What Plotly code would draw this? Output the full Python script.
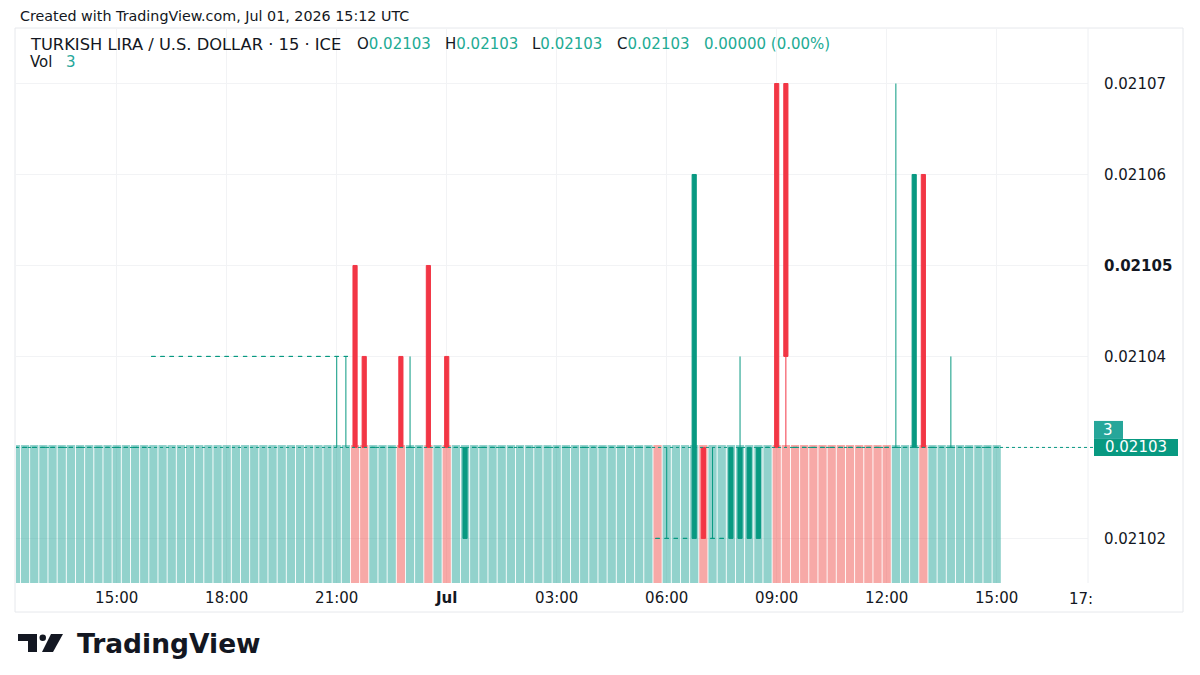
import pandas as pd
import plotly.graph_objects as go

# 15 minute bars, 2026-06-30 12:15 -> 2026-07-01 15:00 (UTC)
times = pd.date_range("2026-06-30 12:15", periods=108, freq="15min")

opens = [
    0.02103, 0.02103, 0.02103, 0.02103, 0.02103, 0.02103, 0.02103,            # 12:15
    0.02103, 0.02103, 0.02103, 0.02103, 0.02103, 0.02103, 0.02103, 0.02103,   # 14:00
    0.02104, 0.02104, 0.02104, 0.02104, 0.02104, 0.02104, 0.02104, 0.02104,   # 16:00
    0.02104, 0.02104, 0.02104, 0.02104, 0.02104, 0.02104, 0.02104, 0.02104,   # 18:00
    0.02104, 0.02104, 0.02104, 0.02104, 0.02104, 0.02104, 0.02105, 0.02104,   # 20:00
    0.02103, 0.02103, 0.02103, 0.02104, 0.02103, 0.02103, 0.02105, 0.02103,   # 22:00
    0.02104, 0.02103, 0.02102, 0.02103, 0.02103, 0.02103, 0.02103, 0.02103,   # 00:00
    0.02103, 0.02103, 0.02103, 0.02103, 0.02103, 0.02103, 0.02103, 0.02103,   # 02:00
    0.02103, 0.02103, 0.02103, 0.02103, 0.02103, 0.02103, 0.02103, 0.02102,   # 04:00
    0.02102, 0.02102, 0.02102, 0.02102, 0.02103, 0.02102, 0.02102, 0.02102,   # 06:00
    0.02102, 0.02102, 0.02102, 0.02103, 0.02107, 0.02107, 0.02103, 0.02103,   # 08:00
    0.02103, 0.02103, 0.02103, 0.02103, 0.02103, 0.02103, 0.02103, 0.02103,   # 10:00
    0.02103, 0.02103, 0.02103, 0.02103, 0.02106, 0.02103, 0.02103, 0.02103,   # 12:00
    0.02103, 0.02103, 0.02103, 0.02103, 0.02103,                              # 14:00
]
highs = [
    0.02103, 0.02103, 0.02103, 0.02103, 0.02103, 0.02103, 0.02103,
    0.02103, 0.02103, 0.02103, 0.02103, 0.02103, 0.02103, 0.02103, 0.02103,
    0.02104, 0.02104, 0.02104, 0.02104, 0.02104, 0.02104, 0.02104, 0.02104,
    0.02104, 0.02104, 0.02104, 0.02104, 0.02104, 0.02104, 0.02104, 0.02104,
    0.02104, 0.02104, 0.02104, 0.02104, 0.02104, 0.02104, 0.02105, 0.02104,
    0.02103, 0.02103, 0.02103, 0.02104, 0.02104, 0.02103, 0.02105, 0.02103,
    0.02104, 0.02103, 0.02103, 0.02103, 0.02103, 0.02103, 0.02103, 0.02103,
    0.02103, 0.02103, 0.02103, 0.02103, 0.02103, 0.02103, 0.02103, 0.02103,
    0.02103, 0.02103, 0.02103, 0.02103, 0.02103, 0.02103, 0.02103, 0.02102,
    0.02103, 0.02102, 0.02102, 0.02106, 0.02103, 0.02103, 0.02102, 0.02103,
    0.02104, 0.02103, 0.02103, 0.02103, 0.02107, 0.02107, 0.02103, 0.02103,
    0.02103, 0.02103, 0.02103, 0.02103, 0.02103, 0.02103, 0.02103, 0.02103,
    0.02103, 0.02107, 0.02103, 0.02106, 0.02106, 0.02103, 0.02103, 0.02104,
    0.02103, 0.02103, 0.02103, 0.02103, 0.02103,
]
lows = [
    0.02103, 0.02103, 0.02103, 0.02103, 0.02103, 0.02103, 0.02103,
    0.02103, 0.02103, 0.02103, 0.02103, 0.02103, 0.02103, 0.02103, 0.02103,
    0.02104, 0.02104, 0.02104, 0.02104, 0.02104, 0.02104, 0.02104, 0.02104,
    0.02104, 0.02104, 0.02104, 0.02104, 0.02104, 0.02104, 0.02104, 0.02104,
    0.02104, 0.02104, 0.02104, 0.02104, 0.02103, 0.02103, 0.02103, 0.02103,
    0.02103, 0.02103, 0.02103, 0.02103, 0.02103, 0.02103, 0.02103, 0.02103,
    0.02103, 0.02103, 0.02102, 0.02103, 0.02103, 0.02103, 0.02103, 0.02103,
    0.02103, 0.02103, 0.02103, 0.02103, 0.02103, 0.02103, 0.02103, 0.02103,
    0.02103, 0.02103, 0.02103, 0.02103, 0.02103, 0.02103, 0.02103, 0.02102,
    0.02102, 0.02102, 0.02102, 0.02102, 0.02102, 0.02102, 0.02102, 0.02102,
    0.02102, 0.02102, 0.02102, 0.02103, 0.02103, 0.02103, 0.02103, 0.02103,
    0.02103, 0.02103, 0.02103, 0.02103, 0.02103, 0.02103, 0.02103, 0.02103,
    0.02103, 0.02103, 0.02103, 0.02103, 0.02103, 0.02103, 0.02103, 0.02103,
    0.02103, 0.02103, 0.02103, 0.02103, 0.02103,
]
closes = [
    0.02103, 0.02103, 0.02103, 0.02103, 0.02103, 0.02103, 0.02103,
    0.02103, 0.02103, 0.02103, 0.02103, 0.02103, 0.02103, 0.02103, 0.02103,
    0.02104, 0.02104, 0.02104, 0.02104, 0.02104, 0.02104, 0.02104, 0.02104,
    0.02104, 0.02104, 0.02104, 0.02104, 0.02104, 0.02104, 0.02104, 0.02104,
    0.02104, 0.02104, 0.02104, 0.02104, 0.02104, 0.02104, 0.02103, 0.02103,
    0.02103, 0.02103, 0.02103, 0.02103, 0.02103, 0.02103, 0.02103, 0.02103,
    0.02103, 0.02103, 0.02103, 0.02103, 0.02103, 0.02103, 0.02103, 0.02103,
    0.02103, 0.02103, 0.02103, 0.02103, 0.02103, 0.02103, 0.02103, 0.02103,
    0.02103, 0.02103, 0.02103, 0.02103, 0.02103, 0.02103, 0.02103, 0.02102,
    0.02102, 0.02102, 0.02102, 0.02106, 0.02102, 0.02102, 0.02102, 0.02103,
    0.02103, 0.02103, 0.02103, 0.02103, 0.02103, 0.02104, 0.02103, 0.02103,
    0.02103, 0.02103, 0.02103, 0.02103, 0.02103, 0.02103, 0.02103, 0.02103,
    0.02103, 0.02103, 0.02103, 0.02106, 0.02103, 0.02103, 0.02103, 0.02103,
    0.02103, 0.02103, 0.02103, 0.02103, 0.02103,
]
volumes = [
    3, 3, 3, 3, 3, 3, 3,
    3, 3, 3, 3, 3, 3, 3, 3,
    3, 3, 3, 3, 3, 3, 3, 3,
    3, 3, 3, 3, 3, 3, 3, 3,
    3, 3, 3, 3, 3, 3, 3, 3,
    3, 3, 3, 3, 3, 3, 3, 3,
    3, 3, 3, 3, 3, 3, 3, 3,
    3, 3, 3, 3, 3, 3, 3, 3,
    3, 3, 3, 3, 3, 3, 3, 3,
    3, 3, 3, 3, 3, 3, 3, 3,
    3, 3, 3, 3, 3, 3, 3, 3,
    3, 3, 3, 3, 3, 3, 3, 3,
    3, 3, 3, 3, 3, 3, 3, 3,
    3, 3, 3, 3, 3,
]
# volume bar direction as TradingView coloured it (u = up, d = down)
vol_dir = [
    "u", "u", "u", "u", "u", "u", "u",
    "u", "u", "u", "u", "u", "u", "u", "u",
    "u", "u", "u", "u", "u", "u", "u", "u",
    "u", "u", "u", "u", "u", "u", "u", "u",
    "u", "u", "u", "u", "u", "u", "d", "d",
    "u", "u", "u", "d", "u", "u", "d", "u",
    "d", "u", "u", "u", "u", "u", "u", "u",
    "u", "u", "u", "u", "u", "u", "u", "u",
    "u", "u", "u", "u", "u", "u", "u", "d",
    "u", "u", "u", "u", "d", "u", "u", "u",
    "u", "u", "u", "u", "d", "d", "d", "d",
    "d", "d", "d", "d", "d", "d", "d", "d",
    "d", "u", "u", "u", "d", "u", "u", "u",
    "u", "u", "u", "u", "u",
]

tick_times = ["2026-06-30 15:00", "2026-06-30 18:00", "2026-06-30 21:00",
              "2026-07-01 00:00", "2026-07-01 03:00", "2026-07-01 06:00",
              "2026-07-01 09:00", "2026-07-01 12:00", "2026-07-01 15:00"]
tick_labels = ["15:00", "18:00", "21:00", "<b>Jul</b>", "03:00", "06:00",
               "09:00", "12:00", "15:00"]
price_ticks = [0.02102, 0.02103, 0.02104, 0.02105, 0.02106, 0.02107]
# 0.02103 sits under the last-price label
price_labels = ["0.02102", "", "0.02104", "<b>0.02105</b>", "0.02106", "0.02107"]

UP = "#089981"
DOWN = "#f23645"
FONT = "DejaVu Sans"
TXT = "#131722"
VAL = "#22ab94"

# plot area in pixels: left 16, right 1088, top 28, bottom 583
def px(x):
    return (x - 16) / 1072

def py(y):
    return (583 - y) / 555

vol_colors = ["rgba(38,166,154,0.5)" if d == "u" else "rgba(239,83,80,0.5)" for d in vol_dir]

# split bars so flat (open == close) candles stay green, like TradingView
is_down = [c < o for o, c in zip(opens, closes)]

def pick(vals, down):
    return [v if d == down else None for v, d in zip(vals, is_down)]

fig = go.Figure()
fig.add_trace(go.Bar(x=times, y=volumes, marker_color=vol_colors, marker_line_width=0,
                     yaxis="y", hoverinfo="skip"))
for down, col in [(False, UP), (True, DOWN)]:
    fig.add_trace(go.Candlestick(
        x=times, open=pick(opens, down), high=pick(highs, down),
        low=pick(lows, down), close=pick(closes, down), yaxis="y2",
        increasing=dict(line=dict(color=col, width=1), fillcolor=col),
        decreasing=dict(line=dict(color=col, width=1), fillcolor=col),
        whiskerwidth=0))

last = closes[-1]
chg = closes[-1] - closes[-2]

def v(s):
    return f"<span style='color:{VAL}'>{s}</span>"

annotations = [
    dict(x=px(18), y=py(16), text="Created with TradingView.com, Jul 01, 2026 15:12 UTC",
         font=dict(size=14.3, color=TXT)),
    dict(x=px(28), y=py(44), text="TURKISH LIRA / U.S. DOLLAR · 15 · ICE", font=dict(size=16.3, color=TXT)),
    dict(x=px(355), y=py(44), text="O" + v(f"{opens[-1]:.5f}"), font=dict(size=15, color=TXT)),
    dict(x=px(443), y=py(44), text="H" + v(f"{highs[-1]:.5f}"), font=dict(size=15, color=TXT)),
    dict(x=px(530), y=py(44), text="L" + v(f"{lows[-1]:.5f}"), font=dict(size=15, color=TXT)),
    dict(x=px(615), y=py(44), text="C" + v(f"{closes[-1]:.5f}"), font=dict(size=15, color=TXT)),
    dict(x=px(702), y=py(44), text=v(f"{chg:.5f} ({chg / closes[-2] * 100:.2f}%)"),
         font=dict(size=15, color=TXT)),
    dict(x=px(28), y=py(62), text="Vol", font=dict(size=15, color=TXT)),
    dict(x=px(64), y=py(62), text=str(volumes[-1]), font=dict(size=15, color="#26a69a")),
    dict(x=px(1067), y=py(599), text="17:", font=dict(size=15, color=TXT)),
    dict(x=px(1136), xanchor="center", y=last, yref="y2", text=f"{last:.5f}",
         font=dict(size=15, color="white")),
    dict(x=px(1108), xanchor="center", y=last, yref="y2", yshift=17, text=str(volumes[-1]),
         font=dict(size=15, color="white")),
    dict(x=px(75), y=py(643), text="<b>TradingView</b>", font=dict(size=26.5, color="#131722")),
]
for a in annotations:
    a.setdefault("xref", "paper")
    a.setdefault("yref", "paper")
    a.setdefault("xanchor", "left")
    a.setdefault("yanchor", "middle")
    a.setdefault("showarrow", False)
    a["font"].setdefault("family", FONT)

shapes = [
    # outer frame and price scale separator
    dict(type="rect", xref="paper", yref="paper", x0=px(15), x1=px(1183), y0=py(612), y1=py(28),
         line=dict(color="#e6e8ec", width=1), layer="below"),
    dict(type="line", xref="paper", yref="paper", x0=1, x1=1, y0=0, y1=1,
         line=dict(color="#eef0f3", width=1)),
    # last price line
    dict(type="line", xref="paper", yref="y2", x0=0, x1=px(1094), y0=last, y1=last,
         line=dict(color=UP, width=1, dash="dot"), layer="above"),
    # price / volume labels
    dict(type="rect", xref="paper", yref="y2", ysizemode="pixel", yanchor=last,
         x0=px(1094), x1=px(1178), y0=-8.5, y1=8.5, fillcolor=UP, line_width=0),
    dict(type="rect", xref="paper", yref="y2", ysizemode="pixel", yanchor=last,
         x0=px(1094), x1=px(1123), y0=8.5, y1=26.5, fillcolor="#26a69a", line_width=0),
    # TradingView logo mark
    dict(type="path", xref="paper", yref="paper", fillcolor="#131722", line_width=0,
         path=f"M{px(18)},{py(634)} L{px(37)},{py(634)} L{px(37)},{py(652)} L{px(28)},{py(652)} "
              f"L{px(28)},{py(641)} L{px(18)},{py(641)} Z"),
    dict(type="circle", xref="paper", yref="paper", fillcolor="#131722", line_width=0,
         x0=px(39.5), x1=px(46), y0=py(641), y1=py(634.5)),
    dict(type="path", xref="paper", yref="paper", fillcolor="#131722", line_width=0,
         path=f"M{px(51)},{py(634)} L{px(63)},{py(634)} L{px(53)},{py(652)} L{px(42)},{py(652)} Z"),
]

fig.update_layout(
    width=1200, height=675,
    margin=dict(l=16, r=112, t=28, b=92),
    paper_bgcolor="white", plot_bgcolor="white",
    showlegend=False, boxgap=0.35, bargap=0.1,
    font=dict(family=FONT, size=15, color=TXT),
    xaxis=dict(type="date",
               range=["2026-06-30 12:15:10", "2026-07-01 17:29:25"],
               tickvals=tick_times, ticktext=tick_labels,
               showgrid=True, gridcolor="#f2f3f5", gridwidth=1,
               zeroline=False, showline=False, ticks="", ticklabelstandoff=4,
               tickfont=dict(size=15, color=TXT), rangeslider=dict(visible=False)),
    yaxis=dict(range=[0, 12.07], visible=False, showgrid=False),
    yaxis2=dict(overlaying="y", side="right",
                range=[0.0210151, 0.0210761],
                tickvals=price_ticks, ticktext=price_labels,
                showgrid=True, gridcolor="#f2f3f5", gridwidth=1,
                zeroline=False, showline=False, ticks="", ticklabelstandoff=15,
                tickfont=dict(size=15, color=TXT)),
    annotations=annotations,
    shapes=shapes,
)

# the page would otherwise add the browser's default 8px body margin
fig.write_html("out.html", config={"displayModeBar": False},
               post_script="document.body.style.margin='0px';")
